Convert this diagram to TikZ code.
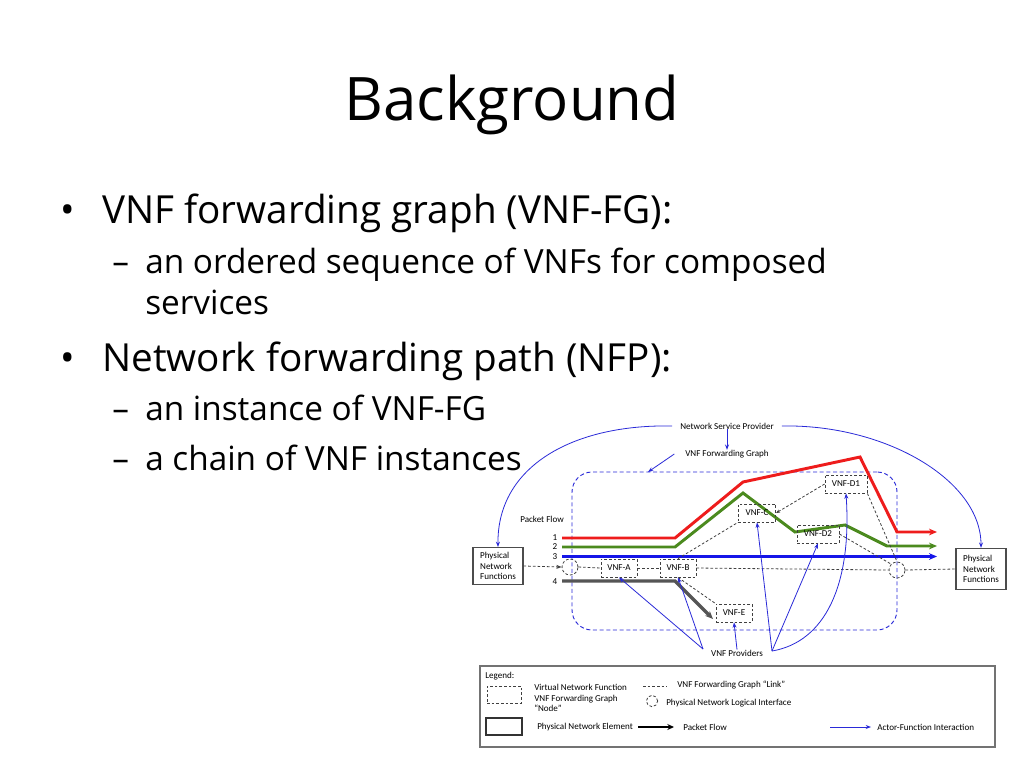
\documentclass[tikz,border=0pt]{standalone}
\usepackage{fontspec}
\setmainfont{Open Sans}
\newfontfamily\dfont{Carlito}
\usetikzlibrary{arrows.meta}
\definecolor{fred}{HTML}{EE1C1C}
\definecolor{fgreen}{HTML}{4B8A1E}
\definecolor{fblue}{HTML}{1515E8}
\definecolor{fgrey}{HTML}{555555}
\definecolor{actblue}{HTML}{2A2AD8}
\begin{document}
\begin{tikzpicture}[x=0.75pt,y=-0.75pt,
  dtext/.style={font=\dfont\fontsize{6.8}{8}\selectfont, inner sep=0pt},
  vnfbox/.style={draw=black!75, dash pattern=on 2pt off 1.5pt, line width=0.6pt, minimum width=27pt, minimum height=13.5pt, font=\dfont\fontsize{6.8}{8}\selectfont, inner sep=0pt},
  pnfbox/.style={draw=black!70, line width=0.8pt, minimum width=37.5pt, font=\dfont\fontsize{6.8}{8}\selectfont, align=left, inner sep=0pt},
  lif/.style={circle, draw=black!75, dash pattern=on 2pt off 1.5pt, line width=0.6pt, minimum size=12pt, inner sep=0pt},
  link/.style={black!75, dash pattern=on 2pt off 1.5pt, line width=0.6pt},
  actor/.style={actblue, line width=0.6pt, -{Stealth[length=4pt,width=3pt]}},
  flow/.style={line width=2.2pt, -{Stealth[length=6pt,width=5pt]}},
  slide/.style={inner sep=0pt, anchor=base west}
]
\useasboundingbox[fill=white] (0,0) rectangle (1024,768);

% ---------- slide text ----------
\node[inner sep=0pt, anchor=base, font=\fontsize{45}{54}\selectfont] (title) at (512,120) {Background};
\node[slide, font=\fontsize{29}{34}\selectfont] (b1dot) at (60,223) {•};
\node[slide, font=\fontsize{29}{34}\selectfont] (b1) at (102,223) {VNF forwarding graph (VNF-FG):};
\node[slide, font=\fontsize{25}{30}\selectfont] (s1dash) at (112,273) {–};
\node[slide, font=\fontsize{25}{30}\selectfont] (s1) at (145,273) {an ordered sequence of VNFs for composed};
\node[slide, font=\fontsize{25}{30}\selectfont] (s1b) at (145,314) {services};
\node[slide, font=\fontsize{29}{34}\selectfont] (b2dot) at (60,371) {•};
\node[slide, font=\fontsize{29}{34}\selectfont] (b2) at (102,371) {Network forwarding path (NFP):};
\node[slide, font=\fontsize{25}{30}\selectfont] (s2dash) at (112,420) {–};
\node[slide, font=\fontsize{25}{30}\selectfont] (s2) at (145,420) {an instance of VNF-FG};
\node[slide, font=\fontsize{25}{30}\selectfont] (s3dash) at (112,470) {–};
\node[slide, font=\fontsize{25}{30}\selectfont] (s3) at (145,470) {a chain of VNF instances};

% ---------- diagram ----------
\node[draw=actblue, dash pattern=on 3pt off 2pt, line width=0.7pt, rounded corners=15pt,
      minimum width=243.75pt, minimum height=118.5pt, inner sep=0pt] (fg) at (734.5,551) {};
\coordinate (fgtop) at (648,472);

\node[dtext, inner xsep=6pt] (nsp) at (727,426) {Network Service Provider};
\node[dtext, inner xsep=8pt] (vfg) at (727,454) {VNF Forwarding Graph};
\node[dtext, anchor=west] (pflow) at (520,519) {Packet Flow};
\node[dtext] (n1) at (555,538) {1};
\node[dtext] (n2) at (555,547) {2};
\node[dtext] (n3) at (555,557) {3};
\node[dtext] (n4) at (555,582) {4};

\node[pnfbox, minimum height=27.75pt] (pnf1) at (498,566) {Physical\\Network\\Functions};
\node[pnfbox, minimum height=31pt] (pnf2) at (981,569) {Physical\\Network\\Functions};

\node[lif] (c1) at (570,567) {};
\node[lif] (c2) at (897,570) {};

% packet flows
\coordinate (f1s) at (562,538);
\coordinate (f1e) at (937,532);
\draw[flow, fred] (f1s) -- (675,538) -- (743,482) -- (860,457) -- (897,532) -- (f1e);
\coordinate (f2s) at (562,547);
\coordinate (f2e) at (937,546);
\draw[flow, fgreen] (f2s) -- (675,547) -- (743,493) -- (795,532) -- (845,525) -- (887,546) -- (f2e);
\coordinate (f3s) at (562,556.5);
\coordinate (f3e) at (937,556.5);
\draw[flow, fblue] (f3s) -- (f3e);

\node[vnfbox, fill=white] (va) at (619,568) {VNF-A};
\node[vnfbox, fill=white] (vb) at (678,568) {VNF-B};
\node[vnfbox] (ve) at (734,613) {VNF-E};
\node[vnfbox, minimum width=28pt] (vc) at (757,513) {VNF-C};
\node[vnfbox, minimum width=31.5pt] (vd2) at (818,534) {VNF-D2};
\node[vnfbox, minimum width=31.5pt] (vd1) at (846,484) {VNF-D1};

\coordinate (f4s) at (562,581);
\coordinate (f4e) at (713,619);
\draw[flow, fgrey, line width=2.4pt] (f4s) -- (675,581) -- (f4e);

% forwarding graph links
\draw[link, -{Stealth[length=4pt,width=3pt]}] (pnf1.east) -- (c1.west);
\draw[link] (c1.east) -- (va.west);
\draw[link] (va.east) -- (vb.west);
\draw[link] (vb.east) -- (c2.west);
\draw[link] (c2.east) -- (pnf2.west);
\draw[link] (vb.north) -- (vc.south west);
\draw[link, -{Stealth[length=3pt,width=2.5pt]}] (vd1.west) -- (vc.east);
\draw[link] (vd1.south east) -- (c2.north);
\draw[link] (vd2.east) -- (c2.north west);
\draw[link] (vb.south) -- (ve.north west);

% actor-function interactions
\draw[actor] (nsp.south) -- (vfg.north);
\draw[actor] (vfg.west) -- (fgtop);
\draw[actor] (nsp.west) .. controls (575,424) and (497,465) .. (pnf1.north);
\draw[actor] (nsp.east) .. controls (885,424) and (981,480) .. (pnf2.north);

\node[dtext] (prov) at (737,653) {VNF Providers};
\coordinate (pv1) at (703,649);
\coordinate (pv2) at (772,651);
\draw[actor] (pv1) -- (va.south);
\draw[actor] (pv1) -- (vb.south);
\draw[actor] (prov.north) -- (ve.south);
\draw[actor] (pv2) -- (vc.south);
\draw[actor] (pv2) -- (vd2.south);
\draw[actor] (pv2) .. controls (825,642) and (852,585) .. (vd1.south);

% ---------- legend ----------
\node[draw=black!55, line width=1pt, minimum width=386.25pt, minimum height=60.75pt, inner sep=0pt] (leg) at (737.5,706.5) {};
\node[dtext, anchor=west] (legt) at (485,676) {Legend:};
\node[draw=black!75, dash pattern=on 2pt off 1.5pt, line width=0.6pt, minimum width=25.5pt, minimum height=12.75pt, inner sep=0pt] (lgv) at (504,694.5) {};
\node[dtext, anchor=west, align=left] (lgvt) at (534,698) {Virtual Network Function\\VNF Forwarding Graph\\“Node”};
\coordinate (lgl1) at (643,686);
\coordinate (lgl2) at (667,686);
\draw[link] (lgl1) -- (lgl2);
\node[dtext, anchor=west] (lglt) at (677,685) {VNF Forwarding Graph “Link”};
\node[lif, minimum size=8.5pt] (lgc) at (652,701) {};
\node[dtext, anchor=west] (lgct) at (666,703) {Physical Network Logical Interface};
\node[draw=black!80, line width=0.8pt, minimum width=27pt, minimum height=12.75pt, inner sep=0pt] (lgp) at (504,726.5) {};
\node[dtext, anchor=west] (lgpt) at (537,727) {Physical Network Element};
\coordinate (lga1) at (638,727);
\coordinate (lga2) at (674,727);
\draw[black, line width=1.6pt, -{Stealth[length=5pt,width=4.5pt]}] (lga1) -- (lga2);
\node[dtext, anchor=west] (lgat) at (683,727) {Packet Flow};
\coordinate (lgb1) at (830,727);
\coordinate (lgb2) at (871,727);
\draw[actor] (lgb1) -- (lgb2);
\node[dtext, anchor=west] (lgbt) at (877,727) {Actor-Function Interaction};
\end{tikzpicture}
\end{document}
